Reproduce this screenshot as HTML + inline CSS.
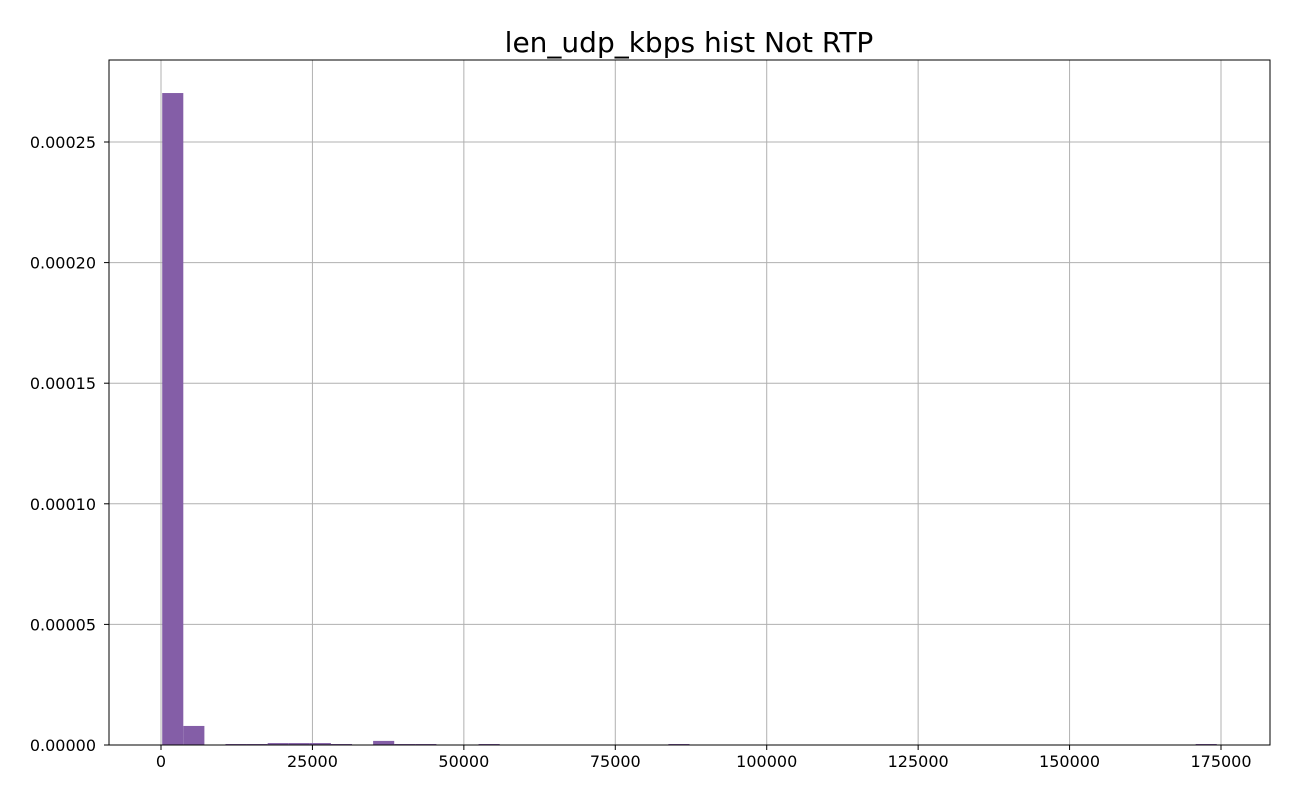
<!DOCTYPE html>
<html><head><meta charset="utf-8"><style>
html,body{margin:0;padding:0;background:#fff;}
svg{display:block;font-family:"DejaVu Sans","Liberation Sans",sans-serif;}
</style></head><body>
<svg id="chart" width="1300" height="800"></svg>
<script>
const binStart = 200;
const binWidth = 3482;
const binIndex = [0, 1, 3, 4, 5, 6, 7, 8, 10, 11, 12, 15, 24, 49];
const density = [0.0002703, 0.0000079, 0.0000004, 0.0000004, 0.0000008, 0.0000008, 0.0000008, 0.0000004, 0.0000017, 0.0000004, 0.0000004, 0.0000004, 0.0000004, 0.0000004];
const xTicks = [0, 25000, 50000, 75000, 100000, 125000, 150000, 175000];
const yTicks = [0, 0.00005, 0.0001, 0.00015, 0.0002, 0.00025];
const yTickLabels = ["0.00000", "0.00005", "0.00010", "0.00015", "0.00020", "0.00025"];

const L = 109, R = 1270, T = 60, B = 745;
const x = v => 161 + v * (1060 / 175000);
const y = v => B - v * (603 / 0.00025);
const svg = document.getElementById('chart');
const NS = 'http://www.w3.org/2000/svg';
function mk(tag, attrs, parent) {
  const e = document.createElementNS(NS, tag);
  for (const k in attrs) e.setAttribute(k, attrs[k]);
  (parent || svg).appendChild(e);
  return e;
}
const title = mk('text', {x: 689, y: 52, 'text-anchor': 'middle', 'font-size': 28, fill: '#000'});


title.textContent = 'len_udp_kbps hist Not RTP';

const grid = mk('g', {});


xTicks.forEach(t => {
  const ln = mk('line', {x1: x(t), x2: x(t), y1: T, y2: B, stroke: '#b0b0b0', 'stroke-width': 1}, grid);
  
  
});
yTicks.forEach(t => {
  const ln = mk('line', {x1: L, x2: R, y1: y(t), y2: y(t), stroke: '#b0b0b0', 'stroke-width': 1}, grid);
  
  
});

const bars = mk('g', {});


binIndex.forEach((b, i) => {
  const x0 = x(binStart + b * binWidth), x1 = x(binStart + (b + 1) * binWidth);
  const h = Math.max(1, B - y(density[i]));
  const r = mk('rect', {x: x0, y: B - h, width: x1 - x0, height: h, fill: '#845ea7'}, bars);
  
  
});

const frame = mk('rect', {x: L, y: T, width: R - L, height: B - T, fill: 'none', stroke: '#000', 'stroke-width': 1});



const xa = mk('g', {});


xTicks.forEach(t => {
  mk('line', {x1: x(t), x2: x(t), y1: B, y2: B + 5, stroke: '#000'}, xa);
  const tx = mk('text', {x: x(t), y: B + 22, 'text-anchor': 'middle', 'font-size': 16, fill: '#000'}, xa);
  
  
  tx.textContent = String(t);
});
const ya = mk('g', {});


yTicks.forEach((t, i) => {
  mk('line', {x1: L - 5, x2: L, y1: y(t), y2: y(t), stroke: '#000'}, ya);
  const tx = mk('text', {x: L - 13, y: y(t) + 6, 'text-anchor': 'end', 'font-size': 16, fill: '#000'}, ya);
  
  
  tx.textContent = yTickLabels[i];
});
</script>
</body></html>
